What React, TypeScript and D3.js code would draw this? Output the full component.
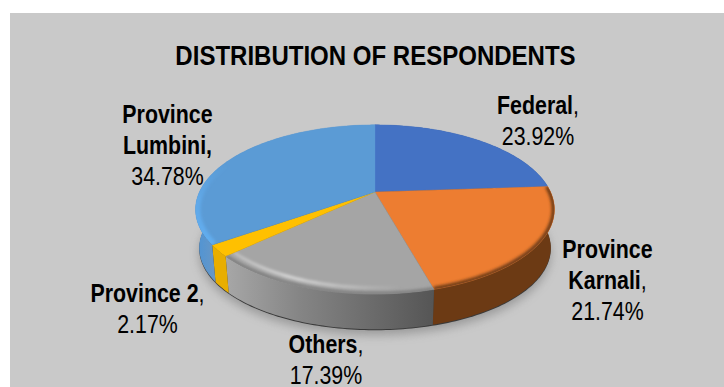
import React from "react";
import * as d3 from "d3";

// Respondent shares, clockwise from twelve o'clock.
const categories = ["Federal", "Province Karnali", "Others", "Province 2", "Province Lumbini"];
const shares = [23.92, 21.74, 17.39, 2.17, 34.78];
const faceColors = ["#4472c4", "#ed7d31", "#a5a5a5", "#ffc000", "#5b9bd5"];
const wallColors = ["#2f5597", "#6c3a14", "url(#wallGrey)", "#e8ae00", "url(#wallBlue)"];
const rimColors = ["none", "#6c3a14", "#7a7a7a", "none", "url(#rimBlue)"];
const rimWidths = [0, 4, 3, 0, 8];

const titleText = "DISTRIBUTION OF RESPONDENTS";
const boldLines = [["Federal"], ["Province", "Karnali"], ["Others"], ["Province 2"], ["Province", "Lumbini,"]];
const commaAfter = [",", ",", ",", ",", ""];
const labelX = [538, 607.5, 326, 147.5, 167.5];
const labelY = [114, 258, 353, 302, 123];

const WIDTH = 724;
const HEIGHT = 387;
const PANEL = "#c9c9c9";
const LINE_GAP = 31;
const LABEL_SIZE = 25;
const LABEL_SQUEEZE = 0.855;
const FONT = "'Liberation Sans', Arial, sans-serif";

// Disc projections: a circle seen in perspective, apex off the ellipse centre.
const topDisc = { cx: 375, cy: 192, a: 175.6, b: 81, k: 0.206 };
const baseDisc = { cx: 375, cy: 231, a: 172, b: 78, k: 0.206 };
type Disc = typeof topDisc;

function project(d: Disc, theta: number, r = 1): [number, number] {
  const u = r * Math.sin(theta);
  const v = -r * Math.cos(theta);
  const w = 1 - d.k * v;
  return [d.cx + (d.a * u) / w, d.cy + (d.b * v) / w];
}

function arcPoints(d: Disc, a0: number, a1: number, r = 1): [number, number][] {
  const n = Math.max(2, Math.ceil((a1 - a0) / 0.02));
  const step = d3.scaleLinear().domain([0, n]).range([a0, a1]);
  return d3.range(n + 1).map((i) => project(d, step(i), r));
}

const pen = d3.line();
const pieLayout = d3.pie<number>().sort(null).startAngle(0).endAngle(2 * Math.PI);
const slices = pieLayout(shares);

export default function App() {
  const faces = slices.map((s) => {
    const apex = project(topDisc, 0, 0);
    return pen([apex, ...arcPoints(topDisc, s.startAngle, s.endAngle)])! + "Z";
  });
  const walls = slices.map(
    (s) =>
      pen([
        ...arcPoints(topDisc, s.startAngle, s.endAngle),
        ...arcPoints(baseDisc, s.startAngle, s.endAngle).reverse(),
      ])! + "Z"
  );
  const basePath = pen(arcPoints(baseDisc, 0, 2 * Math.PI))! + "Z";
  const othersSlice = slices[2];

  return (
    <svg
      width={WIDTH}
      height={HEIGHT}
      style={{ position: "absolute", left: 0, top: 0, background: "#fff" }}
      fontFamily={FONT}
    >
      <defs>
        <filter id="soft1" x="-10%" y="-10%" width="120%" height="120%">
          <feGaussianBlur stdDeviation="1.8" />
        </filter>
        <filter id="soft2" x="-10%" y="-10%" width="120%" height="120%">
          <feGaussianBlur stdDeviation="5" />
        </filter>
        <linearGradient id="wallGrey" gradientUnits="userSpaceOnUse" x1="228" y1="0" x2="432" y2="0">
          <stop offset="0" stopColor="#a6a6a6" />
          <stop offset="0.35" stopColor="#858585" />
          <stop offset="1" stopColor="#565656" />
        </linearGradient>
        <linearGradient id="wallBlue" gradientUnits="userSpaceOnUse" x1="195" y1="0" x2="215" y2="0">
          <stop offset="0" stopColor="#4d94d6" />
          <stop offset="1" stopColor="#6797c6" />
        </linearGradient>
        <linearGradient id="rimBlue" gradientUnits="userSpaceOnUse" x1="0" y1="250" x2="0" y2="165">
          <stop offset="0" stopColor="#62aef0" />
          <stop offset="0.6" stopColor="#62aef0" stopOpacity="0.7" />
          <stop offset="1" stopColor="#62aef0" stopOpacity="0" />
        </linearGradient>
        <linearGradient id="rimShine" gradientUnits="userSpaceOnUse" x1="235" y1="0" x2="400" y2="0">
          <stop offset="0" stopColor="#ffffff" stopOpacity="0.35" />
          <stop offset="0.35" stopColor="#ffffff" stopOpacity="0.7" />
          <stop offset="1" stopColor="#ffffff" stopOpacity="0" />
        </linearGradient>
        {faces.map((d, i) => (
          <clipPath id={`face${i}`} key={i}>
            <path d={d} />
          </clipPath>
        ))}
      </defs>

      <text x={83} y={-3} fontSize={17} fill="#333">g</text>
      <rect x={10} y={13} width={WIDTH - 10} height={HEIGHT - 13} fill={PANEL} />

      <text
        transform={`translate(375.5,65) scale(0.858,1)`}
        textAnchor="middle"
        fontSize={28}
        fontWeight="bold"
        fill="#000"
      >
        {titleText}
      </text>

      <path d={basePath} fill="#8c8c8c" opacity={0.75} transform="translate(0,6)" filter="url(#soft2)" />
      <path d={basePath} fill="#3a3a3a" transform="translate(0,1)" />

      {/* side walls, then the top faces over them */}
      {walls.map((d, i) => (
        <path key={categories[i]} d={d} fill={wallColors[i]} />
      ))}
      {faces.map((d, i) => (
        <path key={categories[i]} d={d} fill={faceColors[i]} stroke={faceColors[i]} strokeWidth={0.4} />
      ))}

      {/* rounded bevel along each slice's outer edge */}
      {slices.map((s, i) =>
        rimWidths[i] > 0 ? (
          <g key={categories[i]} clipPath={`url(#face${i})`}>
            <path
              d={pen(arcPoints(topDisc, s.startAngle, s.endAngle, 0.995))!}
              fill="none"
              stroke={rimColors[i]}
              strokeWidth={rimWidths[i]}
              filter="url(#soft1)"
            />
          </g>
        ) : null
      )}
      <g clipPath="url(#face2)">
        <path
          d={pen(arcPoints(topDisc, othersSlice.startAngle, othersSlice.endAngle, 0.95))!}
          fill="none"
          stroke="url(#rimShine)"
          strokeWidth={2.4}
          filter="url(#soft1)"
        />
      </g>

      {/* data labels: bold name, regular percentage */}
      {slices.map((s, i) => {
        const lines = boldLines[i];
        const squeeze = `scale(${LABEL_SQUEEZE},1)`;
        return (
          <g key={categories[i]} fill="#000" fontSize={LABEL_SIZE} textAnchor="middle">
            {lines.map((line, j) => (
              <text key={line} transform={`translate(${labelX[i]},${labelY[i] + j * LINE_GAP}) ${squeeze}`}>
                <tspan fontWeight="bold">{line}</tspan>
                {j === lines.length - 1 ? <tspan>{commaAfter[i]}</tspan> : null}
              </text>
            ))}
            <text transform={`translate(${labelX[i]},${labelY[i] + lines.length * LINE_GAP}) ${squeeze}`}>
              {`${s.value.toFixed(2)}%`}
            </text>
          </g>
        );
      })}
    </svg>
  );
}
